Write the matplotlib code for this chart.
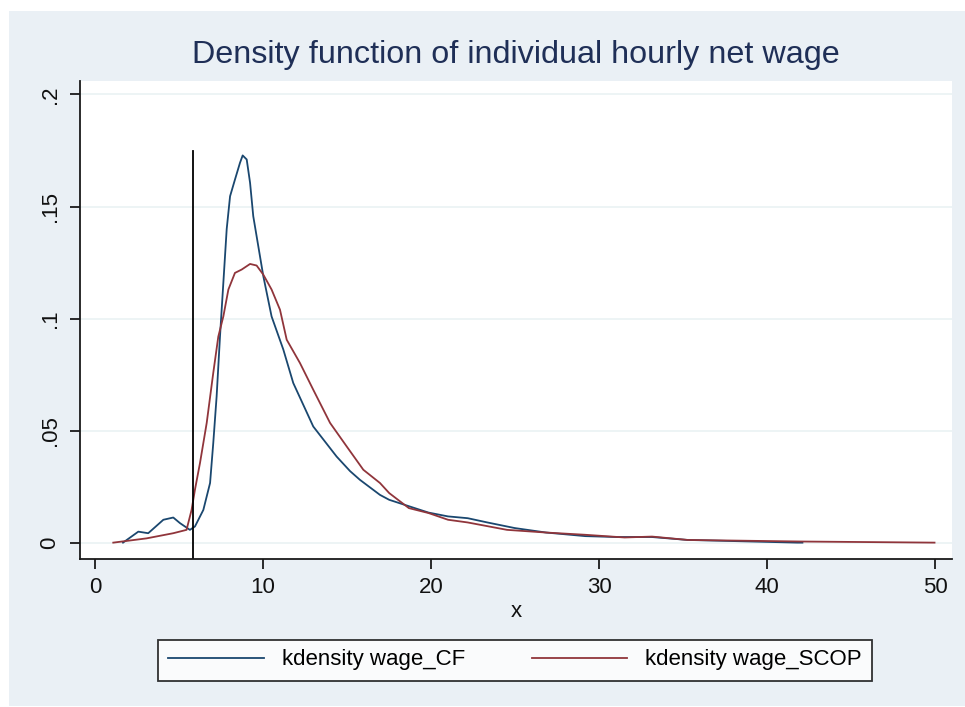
import numpy as np
import matplotlib.pyplot as plt
from matplotlib.patches import Rectangle

# values
cf_x = [1.67, 2.58, 3.17, 4.07, 4.66, 5.06, 5.65, 5.95, 6.45, 6.85, 7.04, 7.24,
        7.44, 7.64, 7.84, 8.04, 8.33, 8.63, 8.79, 9.03, 9.23, 9.42, 9.72, 10.02,
        10.51, 11.21, 11.80, 12.99, 14.38, 15.18, 15.77, 16.96, 17.51, 19.85,
        21.01, 22.18, 23.35, 24.98, 26.85, 29.18, 31.05, 33.15, 35.26, 41.79, 42.1]
cf_y = [0.0001, 0.005, 0.0043, 0.0103, 0.0113, 0.0088, 0.0058, 0.0073, 0.0147,
        0.0267, 0.0445, 0.0653, 0.092, 0.116, 0.140, 0.1546, 0.162, 0.1695,
        0.1728, 0.171, 0.1606, 0.1457, 0.1323, 0.1189, 0.101, 0.0862, 0.0713,
        0.0519, 0.0385, 0.032, 0.0281, 0.0214, 0.0192, 0.0135, 0.0118, 0.011,
        0.0091, 0.0066, 0.0046, 0.003, 0.0026, 0.0026, 0.0013, 0.0001, 0.0001]

scop_x = [1.09, 3.07, 4.66, 5.45, 5.75, 5.95, 6.25, 6.65, 7.04, 7.34, 7.64, 7.94,
          8.33, 8.73, 9.23, 9.62, 10.02, 10.51, 11.01, 11.41, 12.20, 12.99,
          13.99, 14.98, 15.97, 16.96, 17.51, 18.68, 19.85, 21.01, 22.18, 24.52,
          26.85, 29.18, 31.52, 33.15, 35.26, 42.02, 49.96]
scop_y = [0.0001, 0.002, 0.0043, 0.0058, 0.0147, 0.0237, 0.0356, 0.0535, 0.0758,
          0.092, 0.101, 0.113, 0.1204, 0.1219, 0.1244, 0.1237, 0.1196, 0.113,
          0.104, 0.0906, 0.0802, 0.0683, 0.0535, 0.043, 0.0326, 0.0267, 0.0222,
          0.0155, 0.0133, 0.0103, 0.0091, 0.0058, 0.0046, 0.0036, 0.0024, 0.0028,
          0.0013, 0.0006, 0.0001]

cutoff = 5.83
cutoff_top = 0.175

xticks = [0, 10, 20, 30, 40, 50]
yticks = [0, 0.05, 0.1, 0.15, 0.2]
ylabels = ['0', '.05', '.1', '.15', '.2']

plt.rcParams['font.family'] = ['Liberation Sans', 'DejaVu Sans']

bg = '#EAF0F5'
blue = '#1A476F'
red = '#90353B'

fig = plt.figure(figsize=(9.65, 7.07), dpi=100, facecolor='white')
fig.patches.append(Rectangle((9 / 965, 1 / 707), 1, 695 / 707, transform=fig.transFigure,
                             facecolor=bg, edgecolor='none', zorder=-10))

ax = fig.add_axes([80 / 965, (707 - 559) / 707, 872 / 965, 478 / 707])
ax.set_facecolor('white')

ax.plot(cf_x, cf_y, color=blue, lw=1.3, label='kdensity wage_CF')
ax.plot(scop_x, scop_y, color=red, lw=1.3, label='kdensity wage_SCOP')
ax.plot([cutoff, cutoff], [-0.0076, cutoff_top], color='black', lw=1.3)

ax.set_xlim(-0.89, 51.0)
ax.set_ylim(-0.0072, 0.206)
ax.set_xticks(xticks)
ax.set_yticks(yticks)
ax.set_yticklabels(ylabels, rotation=90, va='center')
ax.grid(axis='y', color='#EAF2F3', lw=1.2)
ax.set_axisbelow(True)
for s in ['top', 'right']:
    ax.spines[s].set_visible(False)
for s in ['left', 'bottom']:
    ax.spines[s].set_color('#1a1a1a')
    ax.spines[s].set_linewidth(1.3)
ax.tick_params(direction='out', length=7, width=1.3, color='#1a1a1a',
               labelsize=16, labelcolor='#111111')
ax.tick_params(axis='y', pad=7)
ax.tick_params(axis='x', pad=6)
ax.set_xlabel('x', fontsize=16, labelpad=2, color='#111111')

fig.text(516 / 965, 1 - 55 / 707, 'Density function of individual hourly net wage',
         ha='center', va='center', fontsize=23.3, color='#1F2F57')

leg = fig.legend(loc='center', bbox_to_anchor=(515 / 965, 1 - 660 / 707), ncol=2,
                 fontsize=16, frameon=True, fancybox=False, handlelength=4.3,
                 columnspacing=3.0, handletextpad=0.8, borderpad=0.45,
                 borderaxespad=0)
leg.get_frame().set_edgecolor('black')
leg.get_frame().set_linewidth(1.3)
leg.get_frame().set_facecolor('white')

fig.savefig('out.png', dpi=100, facecolor=fig.get_facecolor())
